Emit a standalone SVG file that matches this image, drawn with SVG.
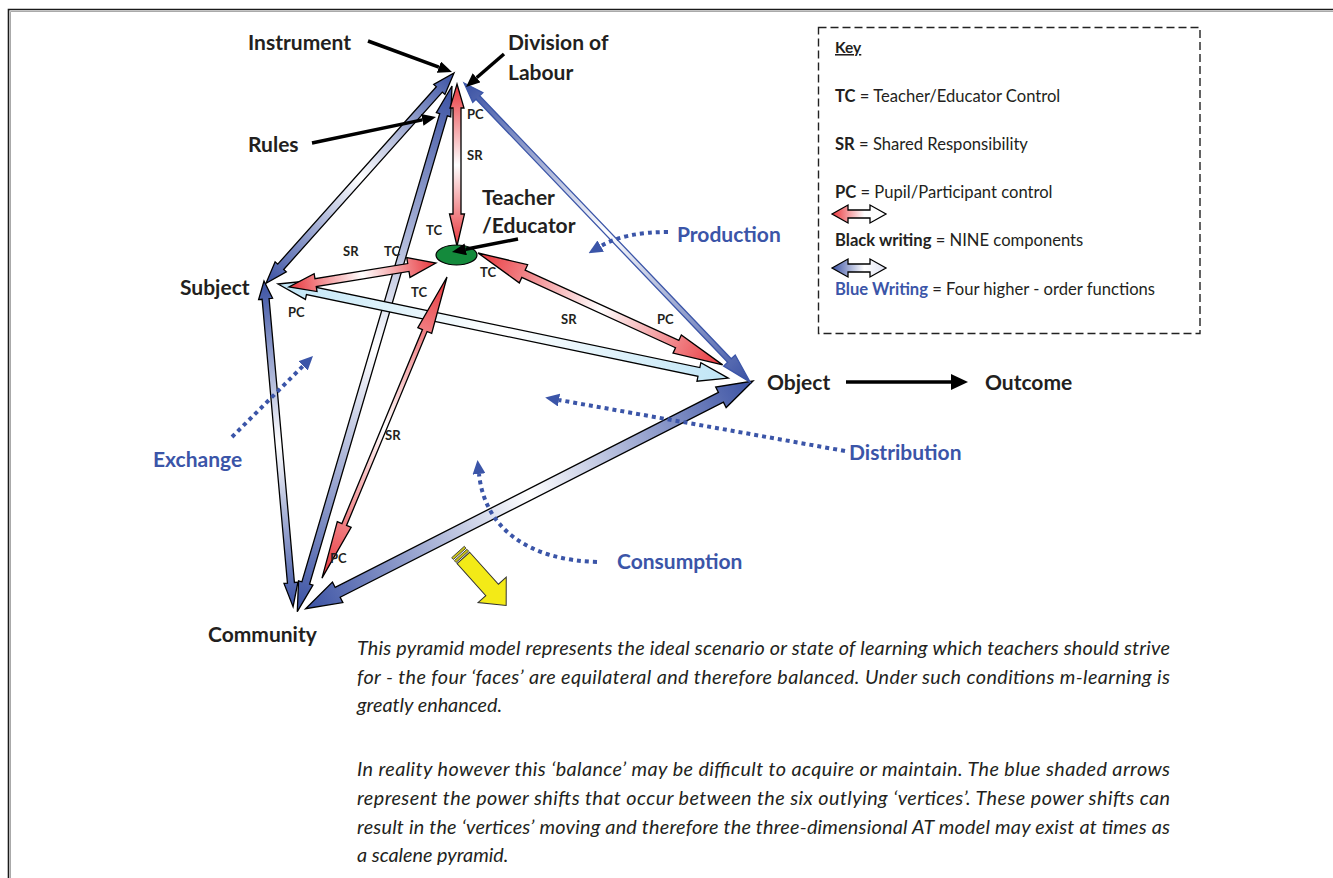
<svg xmlns="http://www.w3.org/2000/svg" width="1333" height="878" viewBox="0 0 1333 878">
<style>
text{font-family:Lato,"Open Sans","Liberation Sans",sans-serif;fill:#231f20}
.lbl{font-size:21px;font-weight:bold}
.blu{font-size:21px;font-weight:bold;fill:#3b55a8}
.sm{font-size:13px;font-weight:bold}
.key{font-size:16.6px}
.para{font-size:19.8px;font-style:italic}
.blk{stroke:#000;stroke-width:1.3;stroke-linejoin:miter}
.dot{fill:none;stroke:#3b55a8;stroke-width:4;stroke-dasharray:4 4}
.ptr{stroke:#000;stroke-width:3.5;fill:none}
</style>
<defs>
<linearGradient id="gB" x1="0" y1="0" x2="1" y2="0">
<stop offset="0" stop-color="#3a51a3"/><stop offset="0.5" stop-color="#ffffff"/><stop offset="1" stop-color="#3a51a3"/>
</linearGradient>
<linearGradient id="gR" x1="0" y1="0" x2="1" y2="0">
<stop offset="0" stop-color="#e8353b"/><stop offset="0.5" stop-color="#ffffff"/><stop offset="1" stop-color="#e8353b"/>
</linearGradient>
<linearGradient id="gC" x1="0" y1="0" x2="1" y2="0">
<stop offset="0" stop-color="#bfe5f6"/><stop offset="0.5" stop-color="#ffffff"/><stop offset="1" stop-color="#bfe5f6"/>
</linearGradient>
<linearGradient id="gRL" x1="0" y1="0" x2="1" y2="0">
<stop offset="0" stop-color="#e8353b"/><stop offset="0.6" stop-color="#ffffff"/><stop offset="1" stop-color="#ffffff"/>
</linearGradient>
<linearGradient id="gBL" x1="0" y1="0" x2="1" y2="0">
<stop offset="0" stop-color="#3a51a3"/><stop offset="0.6" stop-color="#ffffff"/><stop offset="1" stop-color="#dfe2f2"/>
</linearGradient>
<marker id="mk" markerUnits="userSpaceOnUse" markerWidth="14" markerHeight="12" viewBox="0 0 10 10" preserveAspectRatio="none" refX="0" refY="5" orient="auto">
<path d="M0,0 L10,5 L0,10 z" fill="#000"/>
</marker>
<marker id="mk2" markerUnits="userSpaceOnUse" markerWidth="17" markerHeight="16" viewBox="0 0 10 10" preserveAspectRatio="none" refX="0" refY="5" orient="auto">
<path d="M0,0 L10,5 L0,10 z" fill="#000"/>
</marker>
<marker id="md" markerUnits="userSpaceOnUse" markerWidth="14" markerHeight="13" viewBox="0 0 10 10" preserveAspectRatio="none" refX="0" refY="5" orient="auto">
<path d="M0,0 L10,5 L0,10 z" fill="#3b55a8"/>
</marker>
</defs>
<rect width="1333" height="878" fill="#fff"/>
<path d="M8.5,878 V9.5 H1333" fill="none" stroke="#1a1a1a" stroke-width="1.6"/>
<path d="M10.5,878 V11.5 H1333" fill="none" stroke="#aaa" stroke-width="1"/>

<g id="connectors">
<polygon id="a-AS" class="blk" fill="url(#gB)" transform="translate(454,73) rotate(131.8)" points="0,0 22,-7.5 22,-4 260,-4 260,-7.5 282,0 260,7.5 260,4 22,4 22,7.5"/>
<polygon id="a-AC" class="blk" fill="url(#gB)" transform="translate(452,86) rotate(106.4)" points="0,0 30,-7.5 30,-4 518,-4 518,-7.5 548,0 518,7.5 518,4 30,4 30,7.5"/>
<polygon id="a-SC" class="blk" fill="url(#gB)" transform="translate(264,281) rotate(84.9)" points="0,0 18,-7 18,-3.5 303,-3.5 303,-7 327,0 303,7 303,3.5 18,3.5 18,7"/>
<polygon id="a-OC" class="blk" fill="url(#gB)" transform="translate(753,381) rotate(153.03)" points="0,0 36,-11.5 36,-5.5 466,-5.5 466,-11.5 502,0 466,11.5 466,5.5 36,5.5 36,11.5"/>
<polygon id="a-AO" fill="url(#gB)" stroke="#3b55a8" stroke-width="1.3" transform="translate(464,83) rotate(46.27)" points="0,0 20,-7 20,-2.5 384,-2.5 384,-8 414,0 384,8 384,2.5 20,2.5 20,7"/>
<polygon id="a-SO" class="blk" fill="url(#gC)" transform="translate(278,284) rotate(11.8)" points="0,0 30,-9.5 30,-4.5 430,-4.5 430,-9.5 460,0 430,9.5 430,4.5 30,4.5 30,9.5"/>
<polygon id="a-TS" class="blk" fill="url(#gR)" transform="translate(436,263) rotate(170.73)" points="0,0 28,-10 28,-4 122,-4 122,-9 149,0 122,9 122,4 28,4 28,10"/>
<polygon id="a-TO" class="blk" fill="url(#gR)" transform="translate(478,253) rotate(24.57)" points="0,0 50,-10 50,-4 219,-4 219,-10 269,0 219,10 219,4 50,4 50,10"/>
<polygon id="a-AT" class="blk" fill="url(#gR)" transform="translate(457,84) rotate(90)" points="0,0 24,-7 24,-4 130,-4 130,-7.5 162,0 130,7.5 130,4 24,4 24,7"/>
<polygon id="a-TCm" class="blk" fill="url(#gR)" transform="translate(447,277) rotate(112.55)" points="0,0 58,-7.5 58,-2.5 268,-2.5 268,-7.5 326,0 268,7.5 268,2.5 58,2.5 58,7.5"/>

<line class="ptr" x1="368" y1="41" x2="438.9" y2="67.2" marker-end="url(#mk)"/>
<line class="ptr" x1="504" y1="54" x2="476.6" y2="77.8" marker-end="url(#mk)"/>
<line class="ptr" x1="312" y1="143" x2="422.3" y2="119.9" marker-end="url(#mk)"/>
<line class="ptr" x1="846" y1="382" x2="951" y2="382" stroke-width="6" marker-end="url(#mk2)"/>

<path class="dot" d="M668,232 Q625,232 600.7,246.1" marker-end="url(#md)"/>
<path class="dot" d="M232,437 L303.1,365.9" marker-end="url(#md)"/>
<path class="dot" d="M845,451 Q700,425 559,400" marker-end="url(#md)"/>
<path class="dot" d="M597,562 C530,560 485,530 479,474" marker-end="url(#md)"/>

<g id="yellow-arrow" transform="translate(458,552) rotate(48)">
<rect x="0" y="-8.5" width="2.5" height="17" fill="#c9c21a" stroke="#333" stroke-width="0.8"/>
<rect x="4" y="-8.5" width="2.5" height="17" fill="#c9c21a" stroke="#333" stroke-width="0.8"/>
<polygon points="8,-8.5 51,-8.5 51,-19 72,0 51,19 51,8.5 8,8.5" fill="#f3ea17" stroke="#333" stroke-width="1"/>
</g>
</g>

<g id="n-teacher">
<ellipse cx="456.5" cy="255" rx="20.5" ry="10" fill="#148a3c" stroke="#000" stroke-width="1.2"/>
<line class="ptr" x1="518" y1="239" x2="465.7" y2="249.3" stroke-width="4.5" marker-end="url(#mk)"/>
<text class="lbl" x="482" y="205">Teacher</text>
<text class="lbl" x="482" y="233">/Educator</text>
</g>
<g id="n-instrument"><text class="lbl" x="248" y="50">Instrument</text></g>
<g id="n-division"><text class="lbl" x="508" y="50">Division of</text><text class="lbl" x="508" y="80">Labour</text></g>
<g id="n-rules"><text class="lbl" x="248" y="152">Rules</text></g>
<g id="n-subject"><text class="lbl" x="180" y="295">Subject</text></g>
<g id="n-object"><text class="lbl" x="767" y="390">Object</text></g>
<g id="n-outcome"><text class="lbl" x="985" y="390">Outcome</text></g>
<g id="n-community"><text class="lbl" x="208" y="642">Community</text></g>
<g id="n-production"><text class="blu" x="677" y="242">Production</text></g>
<g id="n-exchange"><text class="blu" x="153" y="467">Exchange</text></g>
<g id="n-distribution"><text class="blu" x="849" y="460">Distribution</text></g>
<g id="n-consumption"><text class="blu" x="617" y="569">Consumption</text></g>

<g id="small-labels">
<text class="sm" x="467" y="119">PC</text>
<text class="sm" x="467" y="160">SR</text>
<text class="sm" x="426" y="235">TC</text>
<text class="sm" x="343" y="256">SR</text>
<text class="sm" x="384" y="256">TC</text>
<text class="sm" x="480" y="277">TC</text>
<text class="sm" x="411" y="297">TC</text>
<text class="sm" x="288" y="317">PC</text>
<text class="sm" x="561" y="324">SR</text>
<text class="sm" x="657" y="324">PC</text>
<text class="sm" x="385" y="440">SR</text>
<text class="sm" x="330" y="563">PC</text>
</g>

<g id="key">
<rect x="818.5" y="27.5" width="381.5" height="306" fill="none" stroke="#222" stroke-width="1.4" stroke-dasharray="8 4"/>
<text class="key" x="835" y="53" font-weight="bold" text-decoration="underline" style="font-size:15.5px">Key</text>
<text class="key" x="835" y="102"><tspan font-weight="bold">TC</tspan> = Teacher/Educator Control</text>
<text class="key" x="835" y="150"><tspan font-weight="bold">SR</tspan> = Shared Responsibility</text>
<text class="key" x="835" y="198"><tspan font-weight="bold">PC</tspan> = Pupil/Participant control</text>
<polygon class="blk" fill="url(#gRL)" transform="translate(832,214)" points="0,0 16,-9 16,-4 38,-4 38,-9 54,0 38,9 38,4 16,4 16,9"/>
<text class="key" x="835" y="246"><tspan font-weight="bold">Black writing</tspan> = NINE components</text>
<polygon class="blk" fill="url(#gBL)" transform="translate(832,268)" points="0,0 16,-9 16,-4 38,-4 38,-9 54,0 38,9 38,4 16,4 16,9"/>
<text class="key" x="835" y="295"><tspan font-weight="bold" fill="#3b55a8">Blue Writing</tspan> = Four higher - order functions</text>
</g>

<g id="caption">
<text class="para" x="357" y="655" textLength="813">This pyramid model represents the ideal scenario or state of learning which teachers should strive</text>
<text class="para" x="357" y="684" textLength="813">for - the four ‘faces’ are equilateral and therefore balanced. Under such conditions m-learning is</text>
<text class="para" x="357" y="712">greatly enhanced.</text>
<text class="para" x="357" y="776" textLength="813">In reality however this ‘balance’ may be difficult to acquire or maintain. The blue shaded arrows</text>
<text class="para" x="357" y="805" textLength="813">represent the power shifts that occur between the six outlying ‘vertices’. These power shifts can</text>
<text class="para" x="357" y="834" textLength="813">result in the ‘vertices’ moving and therefore the three-dimensional AT model may exist at times as</text>
<text class="para" x="357" y="862">a scalene pyramid.</text>
</g>
</svg>
